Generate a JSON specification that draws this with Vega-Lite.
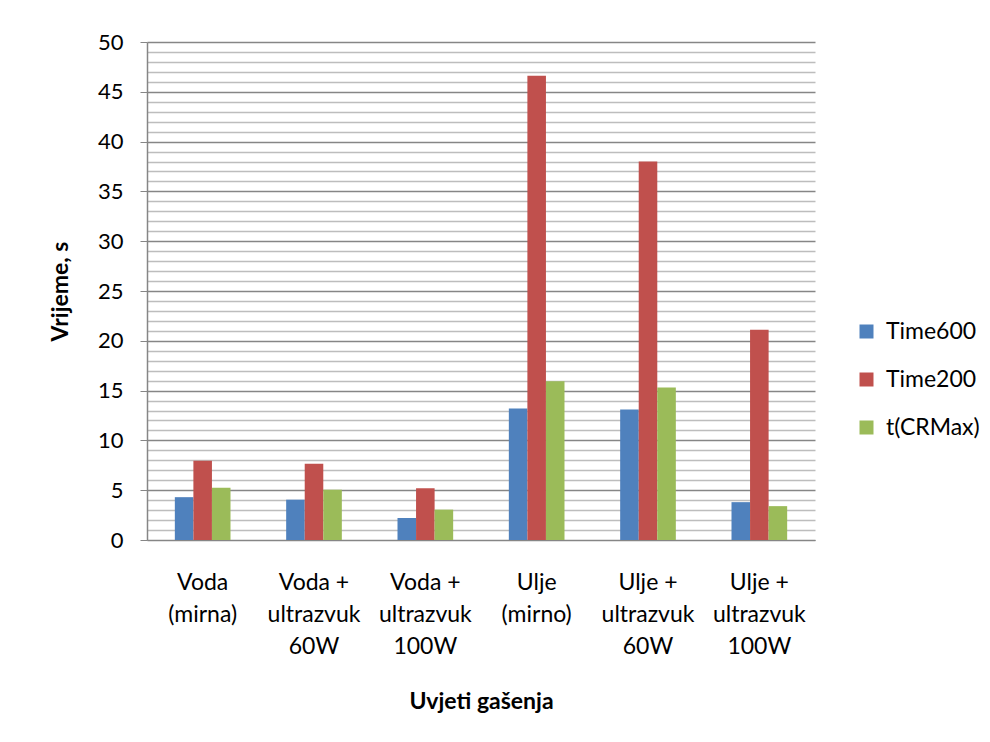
{
  "$schema": "https://vega.github.io/schema/vega-lite/v6.json",
  "width": 668,
  "height": 498,
  "autosize": {"type": "none"},
  "padding": {"left": 147, "top": 42, "right": 175, "bottom": 202},
  "background": "white",
  "data": {
    "values": [
      {"uvjet": "Voda\n(mirna)", "serija": "Time600", "vrijeme": 4.3},
      {"uvjet": "Voda\n(mirna)", "serija": "Time200", "vrijeme": 7.95},
      {"uvjet": "Voda\n(mirna)", "serija": "t(CRMax)", "vrijeme": 5.25},
      {"uvjet": "Voda +\nultrazvuk\n60W", "serija": "Time600", "vrijeme": 4.05},
      {"uvjet": "Voda +\nultrazvuk\n60W", "serija": "Time200", "vrijeme": 7.65},
      {"uvjet": "Voda +\nultrazvuk\n60W", "serija": "t(CRMax)", "vrijeme": 5.05},
      {"uvjet": "Voda +\nultrazvuk\n100W", "serija": "Time600", "vrijeme": 2.2},
      {"uvjet": "Voda +\nultrazvuk\n100W", "serija": "Time200", "vrijeme": 5.2},
      {"uvjet": "Voda +\nultrazvuk\n100W", "serija": "t(CRMax)", "vrijeme": 3.05},
      {"uvjet": "Ulje\n(mirno)", "serija": "Time600", "vrijeme": 13.2},
      {"uvjet": "Ulje\n(mirno)", "serija": "Time200", "vrijeme": 46.6},
      {"uvjet": "Ulje\n(mirno)", "serija": "t(CRMax)", "vrijeme": 15.95},
      {"uvjet": "Ulje +\nultrazvuk\n60W", "serija": "Time600", "vrijeme": 13.1},
      {"uvjet": "Ulje +\nultrazvuk\n60W", "serija": "Time200", "vrijeme": 38.0},
      {"uvjet": "Ulje +\nultrazvuk\n60W", "serija": "t(CRMax)", "vrijeme": 15.3},
      {"uvjet": "Ulje +\nultrazvuk\n100W", "serija": "Time600", "vrijeme": 3.8},
      {"uvjet": "Ulje +\nultrazvuk\n100W", "serija": "Time200", "vrijeme": 21.1},
      {"uvjet": "Ulje +\nultrazvuk\n100W", "serija": "t(CRMax)", "vrijeme": 3.4}
    ]
  },
  "mark": {"type": "bar"},
  "encoding": {
    "x": {
      "field": "uvjet",
      "type": "nominal",
      "sort": null,
      "scale": {"paddingInner": 0.5, "paddingOuter": 0.25},
      "axis": {
        "title": "Uvjeti gašenja",
        "labelAngle": 0,
        "labelExpr": "split(datum.label, '\\n')",
        "labelFontSize": 23,
        "labelLineHeight": 32,
        "labelBaseline": "top",
        "labelPadding": 31,
        "ticks": false,
        "domainColor": "#868686",
        "domainWidth": 1,
        "titlePadding": 32,
        "titleFontSize": 23,
        "labelLimit": 200
      }
    },
    "xOffset": {"field": "serija", "type": "nominal", "sort": ["Time600", "Time200", "t(CRMax)"], "scale": {"paddingInner": 0, "paddingOuter": 0}},
    "y": {
      "field": "vrijeme",
      "type": "quantitative",
      "scale": {"domain": [0, 50], "nice": false},
      "axis": {
        "title": "Vrijeme, s",
        "values": [0,1,2,3,4,5,6,7,8,9,10,11,12,13,14,15,16,17,18,19,20,21,22,23,24,25,26,27,28,29,30,31,32,33,34,35,36,37,38,39,40,41,42,43,44,45,46,47,48,49,50],
        "labelExpr": "datum.value % 5 === 0 ? datum.label : ''",
        "labelFontSize": 22,
        "grid": true,
        "gridColor": {"condition": {"test": "datum.value % 5 === 0", "value": "#868686"}, "value": "#bdbdbd"},
        "gridWidth": 1.5,
        "tickColor": "#868686",
        "tickOpacity": {"condition": {"test": "datum.value % 5 === 0", "value": 1}, "value": 0},
        "tickSize": 7,
        "domainColor": "#868686",
        "domainWidth": 1.5,
        "labelPadding": 17,
        "titleFontSize": 23,
        "titleAngle": -90,
        "titleAlign": "center",
        "titleBaseline": "middle",
        "titleX": -87
      }
    },
    "color": {
      "field": "serija",
      "type": "nominal",
      "sort": ["Time600", "Time200", "t(CRMax)"],
      "scale": {"domain": ["Time600", "Time200", "t(CRMax)"], "range": ["#4F81BD", "#C0504D", "#9BBB59"]},
      "legend": {
        "title": null,
        "orient": "none",
        "legendX": 708,
        "legendY": 278,
        "symbolType": "square",
        "symbolSize": 196,
        "symbolStrokeWidth": 0,
        "labelFontSize": 23,
        "labelOffset": 8,
        "rowPadding": 24,
        "labelColor": "#000000"
      }
    }
  },
  "config": {
    "view": {"stroke": null},
    "font": "Lato",
    "axis": {
      "labelFont": "Lato",
      "labelColor": "#000000",
      "titleFont": "Lato",
      "titleFontWeight": "bold",
      "titleColor": "#000000"
    },
    "legend": {"labelFont": "Lato"}
  }
}
